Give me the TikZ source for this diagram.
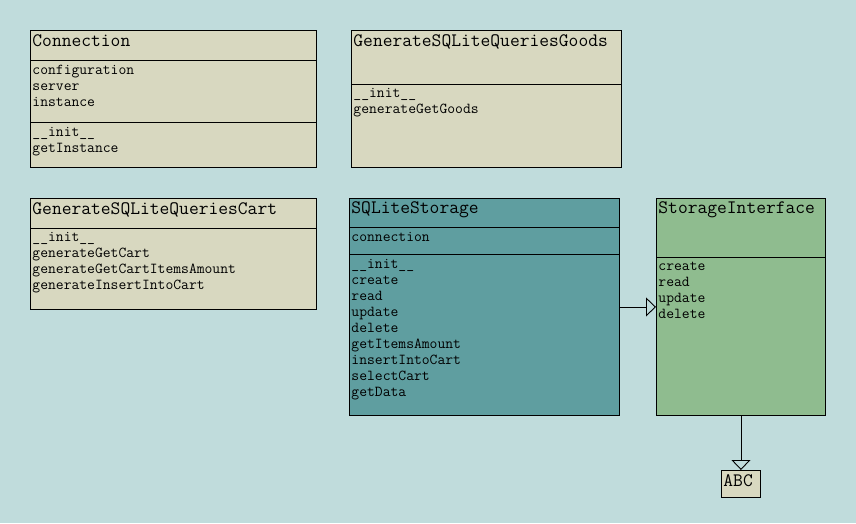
\documentclass[tikz,border=0pt]{standalone}
\usepackage{fontspec}
\usepackage{xcolor}
\usepackage{tikz}
\usetikzlibrary{arrows.meta,positioning}

\definecolor{bgcol}{HTML}{C0DCDC}
\definecolor{clsbeige}{HTML}{D8D8C0}
\definecolor{clsteal}{HTML}{5F9EA0}
\definecolor{clsgreen}{HTML}{8FBC8F}

\begin{document}
\begin{tikzpicture}[x=1pt, y=-1pt, line width=0.9pt, cls/.style={draw,rectangle,anchor=north west,inner sep=0pt}, title/.style={anchor=base west,inner sep=0pt,font=\ttfamily\fontsize{19}{22}\selectfont}, item/.style={anchor=base west,inner sep=0pt,font=\ttfamily\fontsize{15.2}{18}\selectfont}, impl/.style={-{Triangle[open,length=10pt,width=19pt]}}]
    \fill[bgcol] (0,0) rectangle (856,523);
    \useasboundingbox (0,0) rectangle (856,523);
    % class boxes
    \node[cls,fill=clsbeige,minimum width=286pt,minimum height=137pt] (conn) at (30,30) {};
    \node[cls,fill=clsbeige,minimum width=270pt,minimum height=137pt] (goods) at (351,30) {};
    \node[cls,fill=clsbeige,minimum width=286pt,minimum height=111pt] (cart) at (30,198) {};
    \node[cls,fill=clsteal,minimum width=270pt,minimum height=217pt] (store) at (349,198) {};
    \node[cls,fill=clsgreen,minimum width=169pt,minimum height=217pt] (iface) at (656,198) {};
    \node[cls,fill=clsbeige,minimum width=39pt,minimum height=27pt] (abc) at (721,470) {};
    % compartments
    \draw (30,60) -- (316,60);
    \draw (30,122) -- (316,122);
    \draw (351,84) -- (621,84);
    \draw (30,228) -- (316,228);
    \draw (349,227) -- (619,227);
    \draw (349,254) -- (619,254);
    \draw (656,257) -- (825,257);
    % Connection
    \node[title] (conn-t) at (32,46) {Connection};
    \foreach \t [count=\i] in {configuration,server,instance}{
      \node[item] (conn-a\i) at (32,58+16*\i) {\t};
    }
    \foreach \t [count=\i] in {\_\_init\_\_,getInstance}{
      \node[item] (conn-m\i) at (32,120+16*\i) {\t};
    }
    % GenerateSQLiteQueriesGoods
    \node[title] (goods-t) at (353,46) {GenerateSQLiteQueriesGoods};
    \foreach \t [count=\i] in {\_\_init\_\_,generateGetGoods}{
      \node[item] (goods-m\i) at (353,81.5+16*\i) {\t};
    }
    % GenerateSQLiteQueriesCart
    \node[title] (cart-t) at (32,214) {GenerateSQLiteQueriesCart};
    \foreach \t [count=\i] in {\_\_init\_\_,generateGetCart,generateGetCartItemsAmount,generateInsertIntoCart}{
      \node[item] (cart-m\i) at (32,225.5+16*\i) {\t};
    }
    % SQLiteStorage
    \node[title] (store-t) at (351,213) {SQLiteStorage};
    \node[item] (store-a1) at (351,241) {connection};
    \foreach \t [count=\i] in {\_\_init\_\_,create,read,update,delete,getItemsAmount,insertIntoCart,selectCart,getData}{
      \node[item] (store-m\i) at (351,252+16*\i) {\t};
    }
    % StorageInterface
    \node[title] (iface-t) at (658,213) {StorageInterface};
    \foreach \t [count=\i] in {create,read,update,delete}{
      \node[item] (iface-m\i) at (658,254+16*\i) {\t};
    }
    % ABC
    \node[title] (abc-t) at (723,486) {ABC};
    % relations
    \draw[impl] (store.east) -- (iface.west);
    \draw[impl] (iface.south) -- (abc.north);
\end{tikzpicture}
\end{document}
